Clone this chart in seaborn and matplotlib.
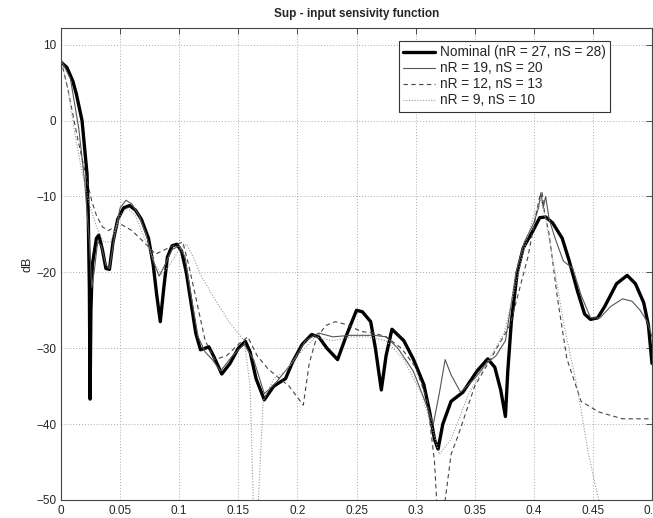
import numpy as np
import pandas as pd
import matplotlib
matplotlib.use("Agg")
import matplotlib.pyplot as plt
import seaborn as sns

# ---- data ----
nom_x = [0.000, 0.005, 0.010, 0.013, 0.0178, 0.022, 0.023, 0.024, 0.0246, 0.0253, 0.0265, 0.030, 0.032,
         0.035, 0.038, 0.041, 0.044, 0.048, 0.053, 0.058, 0.063, 0.068, 0.074, 0.078, 0.081, 0.084,
         0.087, 0.090, 0.094, 0.098, 0.102, 0.106, 0.110, 0.114, 0.118, 0.122, 0.125, 0.129, 0.136,
         0.143, 0.150, 0.156, 0.160, 0.165, 0.172, 0.180, 0.190, 0.196, 0.204, 0.212, 0.218, 0.225,
         0.234, 0.241, 0.250, 0.255, 0.262, 0.266, 0.271, 0.275, 0.280, 0.290, 0.298, 0.307, 0.312,
         0.316, 0.319, 0.323, 0.330, 0.340, 0.352, 0.361, 0.367, 0.372, 0.376, 0.378, 0.381, 0.386,
         0.391, 0.399, 0.405, 0.410, 0.416, 0.424, 0.430, 0.437, 0.443, 0.448, 0.454, 0.460, 0.470,
         0.479, 0.486, 0.493, 0.497, 0.500]
nom_y = [7.7, 7.0, 5.2, 3.5, 0.0, -7, -12, -22, -36.7, -25, -19, -15.5, -15.1,
         -17, -19.5, -19.6, -16, -13, -11.5, -11.2, -11.8, -13, -15.5, -19, -23, -26.5,
         -22, -18, -16.5, -16.3, -17.2, -20, -24, -28, -30.2, -30, -29.8, -31, -33.4,
         -32, -30, -29.1, -30.5, -34, -36.8, -35, -34, -31.8, -29.5, -28.2, -28.5, -30,
         -31.5, -28.5, -25, -25.2, -26.5, -30, -35.5, -31, -27.5, -29, -31.4, -34.8, -38.5,
         -42, -43.3, -40, -37, -35.8, -33, -31.4, -32.5, -35.5, -39, -33, -26.5, -20,
         -16.8, -14.6, -12.8, -12.7, -13.5, -15.5, -18.5, -22.5, -25.5, -26.2, -26, -24.5, -21.5,
         -20.4, -21.5, -24, -27, -32]

r19_x = [0.000, 0.008, 0.015, 0.020, 0.024, 0.026, 0.028, 0.031, 0.034, 0.038, 0.041, 0.045, 0.050,
         0.055, 0.060, 0.066, 0.072, 0.078, 0.083, 0.088, 0.094, 0.100, 0.105, 0.110, 0.116, 0.122,
         0.128, 0.135, 0.145, 0.155, 0.163, 0.172, 0.182, 0.195, 0.207, 0.218, 0.230, 0.245, 0.265,
         0.275, 0.285, 0.298, 0.308, 0.315, 0.320, 0.325, 0.330, 0.338, 0.350, 0.360, 0.368,
         0.376, 0.385, 0.392, 0.400, 0.404, 0.406, 0.408, 0.410, 0.413, 0.418, 0.425, 0.433, 0.440,
         0.448, 0.456, 0.465, 0.475, 0.483, 0.490, 0.496, 0.500]
r19_y = [8.0, 5.5, -1, -8, -16, -22, -20, -16, -16.5, -19, -19.5, -15.5, -11.5,
         -10.5, -11, -12.5, -15, -18.5, -20.5, -19, -17, -16.5, -18, -23, -28.5, -30.5,
         -31.5, -33, -31, -29.5, -31.5, -36, -34.5, -32, -29, -28, -28.5, -28.3, -28.3,
         -28.5, -30, -33, -37, -40, -36, -31.5, -33.5, -35.8, -34, -32, -31,
         -29, -20, -16, -13.5, -11.5, -9.5, -11.5, -10, -13, -15.5, -18.5, -19.5, -23,
         -26, -26, -24.5, -23.5, -23.8, -25, -26.5, -28.5]

r12_x = [0.000, 0.006, 0.0144, 0.020, 0.026, 0.030, 0.035, 0.040, 0.050, 0.060, 0.070, 0.080, 0.088,
         0.095, 0.103, 0.108, 0.115, 0.122, 0.130, 0.140, 0.150, 0.158, 0.166, 0.175, 0.185, 0.193,
         0.205, 0.210, 0.216, 0.224, 0.232, 0.242, 0.254, 0.265, 0.275, 0.288, 0.300, 0.310, 0.316,
         0.3185, 0.325, 0.330, 0.336, 0.350, 0.365, 0.380, 0.395, 0.402, 0.405, 0.407, 0.409, 0.413,
         0.420, 0.428, 0.440, 0.455, 0.475, 0.490, 0.500]
r12_y = [8.0, 4, -2.6, -6.5, -10.6, -12.5, -14, -14.5, -13.6, -14.5, -16, -17.6, -17,
         -16.5, -16, -19, -24, -29, -31.5, -31, -29.5, -28.5, -31, -32.7, -34, -35,
         -37.5, -32, -28.7, -27, -26.5, -26.9, -27.8, -28, -28.5, -30, -32.5, -37, -45,
         -52, -50, -44, -41.5, -35, -31, -26.9, -18, -12.3, -10, -9.5, -12, -15,
         -23.4, -31.4, -37, -38.4, -39.3, -39.3, -39.3]

r9_x = [0.000, 0.006, 0.012, 0.018, 0.024, 0.030, 0.036, 0.042, 0.050, 0.056, 0.063, 0.072, 0.080,
        0.085, 0.092, 0.100, 0.106, 0.112, 0.118, 0.130, 0.142, 0.155, 0.160, 0.163, 0.167, 0.171,
        0.180, 0.190, 0.200, 0.215, 0.230, 0.245, 0.260, 0.275, 0.290, 0.305, 0.315, 0.320, 0.330,
        0.345, 0.360, 0.375, 0.390, 0.400, 0.406, 0.410, 0.418, 0.425, 0.437, 0.446, 0.452, 0.458,
        0.500]
r9_y = [8.0, 4, -2, -7, -11, -14, -16, -16, -12.5, -11.5, -12.5, -16, -19,
        -20.3, -19, -17, -16.3, -18, -20.3, -23.5, -26.5, -29, -35, -52, -50, -37,
        -34, -33, -31, -28.5, -29, -28.5, -28.5, -29, -31.5, -36, -41, -44, -42,
        -36, -32, -28, -18, -12.5, -10.5, -13, -20, -26.5, -35.4, -43.7, -48, -52,
        -65]

labels = ["Nominal (nR = 27, nS = 28)", "nR = 19, nS = 20", "nR = 12, nS = 13", "nR = 9, nS = 10"]
title = "Sup - input sensivity function"
ylabel = "dB"
xticks = [0, 0.05, 0.1, 0.15, 0.2, 0.25, 0.3, 0.35, 0.4, 0.45, 0.5]
xticklabels = ["0", "0.05", "0.1", "0.15", "0.2", "0.25", "0.3", "0.35", "0.4", "0.45", "0.5"]
yticks = [-50, -40, -30, -20, -10, 0, 10]

# ---- style ----
sns.set_style("white")
plt.rcParams['font.family'] = ['Liberation Sans', 'DejaVu Sans']
plt.rcParams['xtick.direction'] = 'in'
plt.rcParams['ytick.direction'] = 'in'
plt.rcParams['lines.solid_joinstyle'] = 'round'
plt.rcParams['lines.dash_joinstyle'] = 'round'

fig = plt.figure(figsize=(6.53, 5.18), dpi=100)
ax = fig.add_axes([61/653, 1-500/518, 591/653, 472/518])

series = [
    (nom_x, nom_y, labels[0], dict(color="black", linewidth=2.4, linestyle="-")),
    (r19_x, r19_y, labels[1], dict(color="#555555", linewidth=0.8, linestyle="-")),
    (r12_x, r12_y, labels[2], dict(color="#444444", linewidth=0.8, linestyle=(0, (4, 3)))),
    (r9_x, r9_y, labels[3], dict(color="#9a9a9a", linewidth=0.8, linestyle=(0, (1, 1.5)))),
]
for xs, ys, lab, st in series:
    df = pd.DataFrame({"f": xs, "dB": ys})
    sns.lineplot(data=df, x="f", y="dB", ax=ax, sort=False, estimator=None,
                 label=lab, **st)

ax.set_xlim(0, 0.5)
ax.set_ylim(-50, 12.2)
ax.set_xticks(xticks)
ax.set_xticklabels(xticklabels)
ax.set_yticks(yticks)
ax.tick_params(labelsize=8.5, length=4, width=0.6, color="#333333", top=True, right=True)
ax.grid(True, linestyle=(0, (1, 2)), color="#aaaaaa", linewidth=0.7)
for s in ax.spines.values():
    s.set_color("#444444")
    s.set_linewidth(0.8)
ax.set_xlabel("")
ax.set_ylabel(ylabel, fontsize=9, labelpad=2)
ax.set_title(title, fontsize=8.5, fontweight="bold", pad=8)

leg = ax.legend(loc="upper right", bbox_to_anchor=(0.929, 0.972), borderaxespad=0,
                fontsize=9.8, frameon=True, fancybox=False, framealpha=1,
                handlelength=2.3, labelspacing=0.15, borderpad=0.3, handletextpad=0.4)
leg.get_frame().set_edgecolor("#333333")
leg.get_frame().set_linewidth(0.8)

fig.savefig("out.png", dpi=100)
